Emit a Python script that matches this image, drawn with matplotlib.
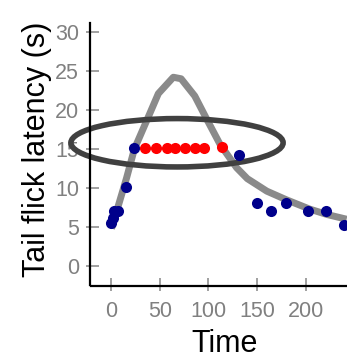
import matplotlib
matplotlib.use("Agg")
import matplotlib.pyplot as plt
from matplotlib.patches import Ellipse
from matplotlib.lines import Line2D

plt.rcParams['font.family'] = ['Liberation Sans', 'DejaVu Sans']

# Fitted curve
curve_x = [0.5, 16, 24, 40, 48.6, 64, 72, 86, 98, 112, 129, 140, 160, 180, 204, 222, 242]
curve_y = [4.8, 11.3, 15.0, 19.6, 22.1, 24.2, 24.0, 21.8, 18.9, 15.6, 12.6, 11.2, 9.6, 8.5, 7.3, 6.6, 6.0]

# Observed points outside plateau
blue_x = [0, 2, 3, 7, 15, 24, 131, 150, 164, 180, 202, 221, 239]
blue_y = [5.5, 6.2, 7.0, 7.0, 10.1, 15.1, 14.2, 8.1, 7.1, 8.1, 7.0, 7.1, 5.3]

# Plateau points (cut-off)
red_x = [35, 46, 58, 66, 75.5, 86, 96, 114]
red_y = [15.1, 15.1, 15.1, 15.1, 15.1, 15.1, 15.1, 15.2]

# Highlight ellipse
ell_center = (67.8, 15.8)
ell_width = 218
ell_height = 6.2

xticks = [0, 50, 100, 150, 200]
yticks = [0, 5, 10, 15, 20, 25, 30]

W, H = 347, 359
fig = plt.figure(figsize=(W / 100, H / 100), dpi=100)
ax = fig.add_axes([86 / W, (H - 291) / H, (347 - 86) / W, (291 - 23) / H])

ax.plot(curve_x, curve_y, color='#8a8a8a', lw=5, solid_capstyle='butt', zorder=2)
ax.add_patch(Ellipse(ell_center, ell_width, ell_height, fill=False,
                     edgecolor='#404040', lw=4, zorder=3, clip_on=False))
ax.plot(blue_x, blue_y, 'o', color='#00008b', ms=8, mew=0, zorder=4)
ax.plot(red_x, red_y, 'o', color='#ff0000', ms=8, mew=0, zorder=4)

ax.set_xlim(-25.7, 242.4)
ax.set_ylim(-3.2, 31.15)
ax.set_xticks(xticks)
ax.set_yticks(yticks)
for s in ax.spines.values():
    s.set_visible(False)
ax.patch.set_alpha(0)
ax.tick_params(axis='both', direction='in', length=9.4, width=1.4, color='#a0a0a0',
               labelcolor='#808080', labelsize=15.5)
ax.tick_params(axis='x', pad=7.5)
ax.tick_params(axis='y', pad=5)

# axis lines
fig.add_artist(Line2D([90 / W, 90 / W], [1 - 23 / H, 1 - 285 / H], color='black', lw=1.6))
fig.add_artist(Line2D([91 / W, 1.0], [1 - 286 / H, 1 - 286 / H], color='black', lw=1.6))

fig.text(225 / W, 0.5 / H, 'Time', ha='center', va='bottom', fontsize=22, color='black')
fig.text(45 / W, 1 - 149 / H, 'Tail flick latency (s)', rotation=90, rotation_mode='anchor',
         ha='center', va='baseline', fontsize=22, color='black')

fig.savefig('out.png', dpi=100)
